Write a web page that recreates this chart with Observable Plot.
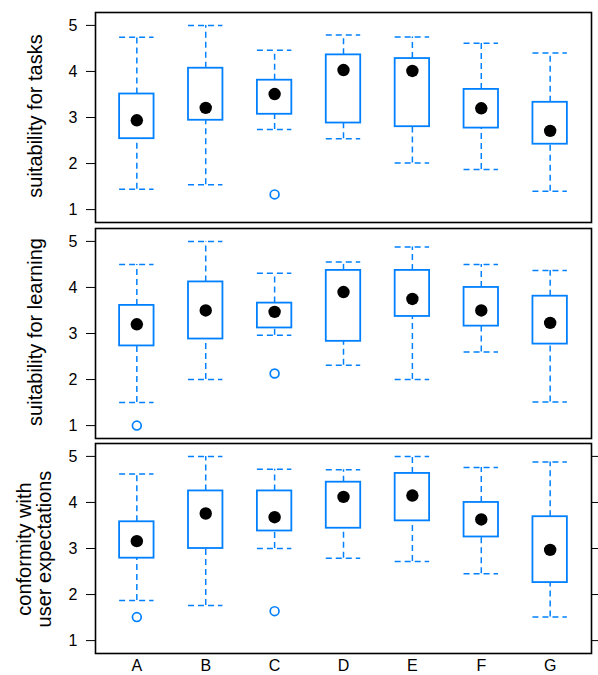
<!DOCTYPE html>
<html>
<head>
<meta charset="utf-8">
<script src="https://cdn.jsdelivr.net/npm/d3@7"></script>
<script src="https://cdn.jsdelivr.net/npm/@observablehq/plot@0.6"></script>
<style>
  body { margin: 0; background: white; }
  #wrap { position: relative; width: 598px; height: 675px; overflow: hidden; background: white; font-family: "Liberation Sans", Arial, sans-serif; }
  #wrap svg text { font-size: 16px !important; font-family: "Liberation Sans", Arial, sans-serif !important; fill: black; }
  .panel { position: absolute; left: 0; }
  .ytitle { position: absolute; white-space: nowrap; text-align: center; font-size: 20px; line-height: 20px; color: black;
            transform: translate(-50%, -50%) rotate(-90deg); }
</style>
</head>
<body>
<div id="wrap"></div>
<script>
const categories = ["A", "B", "C", "D", "E", "F", "G"];
const tickValues = [1, 2, 3, 4, 5];
const panelTitles = ["suitability for tasks", "suitability for learning", "conformity with\nuser expectations"];

// suitability for tasks
const tasksLower  = [1.44, 1.54, 2.74, 2.54, 2.01, 1.87, 1.40];
const tasksQ1     = [2.54, 2.94, 3.07, 2.88, 2.80, 2.77, 2.42];
const tasksMedian = [2.94, 3.21, 3.51, 4.03, 4.01, 3.20, 2.71];
const tasksQ3     = [3.51, 4.07, 3.81, 4.36, 4.28, 3.61, 3.33];
const tasksUpper  = [4.74, 5.00, 4.46, 4.79, 4.75, 4.61, 4.40];
const tasksOutCat = ["C"];
const tasksOutVal = [1.33];

// suitability for learning
const learnLower  = [1.50, 2.00, 2.96, 2.31, 2.00, 2.60, 1.51];
const learnQ1     = [2.73, 2.88, 3.12, 2.83, 3.37, 3.16, 2.77];
const learnMedian = [3.20, 3.50, 3.47, 3.90, 3.75, 3.50, 3.23];
const learnQ3     = [3.61, 4.12, 3.66, 4.37, 4.37, 4.00, 3.81];
const learnUpper  = [4.50, 5.00, 4.31, 4.55, 4.88, 4.50, 4.37];
const learnOutCat = ["A", "C"];
const learnOutVal = [1.00, 2.13];

// conformity with user expectations
const confLower  = [1.87, 1.76, 3.00, 2.79, 2.72, 2.45, 1.51];
const confQ1     = [2.79, 3.00, 3.38, 3.44, 3.60, 3.25, 2.26];
const confMedian = [3.16, 3.76, 3.68, 4.12, 4.15, 3.63, 2.97];
const confQ3     = [3.58, 4.25, 4.25, 4.44, 4.63, 4.00, 3.69];
const confUpper  = [4.62, 5.00, 4.72, 4.71, 5.00, 4.76, 4.88];
const confOutCat = ["A", "C"];
const confOutVal = [1.51, 1.64];

const blue = "#0080ff";
const dash = "6,4";

function table(lower, q1, med, q3, upper) {
  return categories.map((c, i) => ({cat: c, lower: lower[i], q1: q1[i], med: med[i], q3: q3[i], upper: upper[i]}));
}
function outTable(cats, vals) { return cats.map((c, i) => ({cat: c, v: vals[i]})); }

const panels = [
  {data: table(tasksLower, tasksQ1, tasksMedian, tasksQ3, tasksUpper), out: outTable(tasksOutCat, tasksOutVal), top: 0, mt: 12, mb: 2, xaxis: false, right: false},
  {data: table(learnLower, learnQ1, learnMedian, learnQ3, learnUpper), out: outTable(learnOutCat, learnOutVal), top: 225, mt: 3, mb: 2, xaxis: false, right: false},
  {data: table(confLower, confQ1, confMedian, confQ3, confUpper), out: outTable(confOutCat, confOutVal), top: 440, mt: 3, mb: 23, xaxis: true, right: true}
];
const titlePos = [[35, 116], [35, 332], [34, 549]];

const wrap = document.getElementById("wrap");
panels.forEach((p, k) => {
  const frameH = 210;
  const marks = [
    Plot.ruleX(p.data, {x: "cat", y1: "q3", y2: "upper", stroke: blue, strokeWidth: 1.5, strokeDasharray: dash}),
    Plot.ruleX(p.data, {x: "cat", y1: "lower", y2: "q1", stroke: blue, strokeWidth: 1.5, strokeDasharray: dash}),
    Plot.tickY(p.data, {x: "cat", y: "upper", stroke: blue, strokeWidth: 1.5, strokeDasharray: dash}),
    Plot.tickY(p.data, {x: "cat", y: "lower", stroke: blue, strokeWidth: 1.5, strokeDasharray: dash}),
    Plot.barY(p.data, {x: "cat", y1: "q1", y2: "q3", fill: "white", stroke: blue, strokeWidth: 1.8}),
    Plot.dot(p.data, {x: "cat", y: "med", r: 6.2, fill: "black", stroke: "none"}),
    Plot.dot(p.out, {x: "cat", y: "v", r: 4.4, fill: "none", stroke: blue, strokeWidth: 1.7}),
    Plot.frame({stroke: "black", strokeWidth: 1.6}),
    Plot.axisY({ticks: tickValues, tickFormat: d3.format("d"), tickSize: 9, tickPadding: 9, fontSize: 16, label: null, stroke: "black"})
  ];
  if (p.right) marks.push(Plot.axisY({anchor: "right", ticks: tickValues, tickSize: 9, tickFormat: () => "", label: null}));
  if (p.xaxis) marks.push(Plot.axisX({tickSize: 0, tickPadding: 6, fontSize: 16, label: null}));
  const chart = Plot.plot({
    width: 598,
    height: p.mt + frameH + p.mb,
    marginLeft: 95,
    marginRight: 7,
    marginTop: p.mt,
    marginBottom: p.mb,
    style: {fontFamily: "'Liberation Sans', Arial, sans-serif", fontSize: "16px", color: "black", background: "white", overflow: "visible"},
    x: {type: "band", domain: categories, paddingInner: 0.5, paddingOuter: 0.35, round: false, axis: null},
    y: {domain: [0.72, 5.28], axis: null},
    marks
  });
  chart.classList.add("panel");
  chart.style.top = p.top + "px";
  wrap.appendChild(chart);

  const t = document.createElement("div");
  t.className = "ytitle";
  t.style.left = titlePos[k][0] + "px";
  t.style.top = titlePos[k][1] + "px";
  panelTitles[k].split("\n").forEach((line, i) => {
    if (i > 0) t.appendChild(document.createElement("br"));
    t.appendChild(document.createTextNode(line));
  });
  wrap.appendChild(t);
});
</script>
</body>
</html>
